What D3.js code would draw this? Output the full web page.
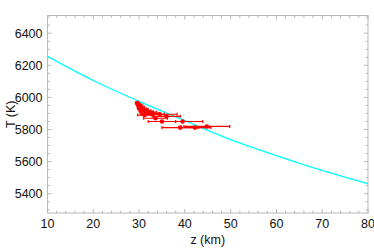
<!DOCTYPE html>
<html>
<head>
<meta charset="utf-8">
<script src="https://cdn.jsdelivr.net/npm/d3@7"></script>
<style>
  body { margin: 0; background: #fff; }
  text { font-family: "Liberation Sans", Arial, sans-serif; }
</style>
</head>
<body>
<div id="viz"></div>
<script>
var width = 374;
var height = 248;

// model curve
var curveZ = [10, 20, 30, 40, 50, 60, 70, 80];
var curveT = [6255, 6105, 5975, 5855, 5737, 5638, 5545, 5462];

// measurements with z error
var ptZ = [29.6, 29.9, 30.2, 30.4, 30.7, 31.0, 31.3, 31.6, 32.0, 32.4, 31.2, 33.0, 34.5, 33.6, 36.0, 35.0, 39.5, 39.0, 42.2, 44.8];
var ptT = [5965, 5955, 5948, 5938, 5930, 5925, 5918, 5912, 5908, 5900, 5890, 5895, 5895, 5870, 5882, 5850, 5850, 5812, 5812, 5819];
var ptErr = [0.4, 0.5, 0.6, 0.8, 1.0, 1.0, 1.3, 1.5, 1.8, 2.0, 1.5, 2.5, 3.8, 2.6, 3.0, 3.0, 4.4, 4.0, 3.5, 5.0];

var xTicks = [10, 20, 30, 40, 50, 60, 70, 80];
var yTicks = [5400, 5600, 5800, 6000, 6200, 6400];

var margin = {left: 47.5, right: 6, top: 15.5, bottom: 35};

var svg = d3.select("#viz")
    .append("svg")
    .attr("width", width)
    .attr("height", height);

var x = d3.scaleLinear()
    .domain([10, 80])
    .range([margin.left, width - margin.right]);

var y = d3.scaleLinear()
    .domain([5280, 6510])
    .range([height - margin.bottom, margin.top]);

var frameColor = "#b8b8b8";

// ticks, all pointing inward
var xMinor = d3.range(10, 80.001, 2);
var yMinor = d3.range(5300, 6500.001, 50);

var g = svg.append("g").attr("stroke", frameColor).attr("stroke-width", 1);

xMinor.forEach(function(v) {
  var len = (v % 10 === 0) ? 4 : 2.5;
  g.append("line").attr("x1", x(v)).attr("x2", x(v))
    .attr("y1", y.range()[0]).attr("y2", y.range()[0] - len);
  g.append("line").attr("x1", x(v)).attr("x2", x(v))
    .attr("y1", y.range()[1]).attr("y2", y.range()[1] + len);
});
yMinor.forEach(function(v) {
  var len = (v % 200 === 0) ? 4 : 2.5;
  g.append("line").attr("y1", y(v)).attr("y2", y(v))
    .attr("x1", x.range()[0]).attr("x2", x.range()[0] + len);
  g.append("line").attr("y1", y(v)).attr("y2", y(v))
    .attr("x1", x.range()[1]).attr("x2", x.range()[1] - len);
});

svg.append("rect")
    .attr("x", x.range()[0])
    .attr("y", y.range()[1])
    .attr("width", x.range()[1] - x.range()[0])
    .attr("height", y.range()[0] - y.range()[1])
    .attr("fill", "none")
    .attr("stroke", frameColor);

// tick labels
svg.selectAll("text.xt")
    .data(xTicks)
    .enter()
    .append("text")
    .attr("x", d => x(d))
    .attr("y", y.range()[0] + 14.5)
    .attr("text-anchor", "middle")
    .attr("font-size", 12.5)
    .attr("fill", "#111")
    .text(d => d);

svg.selectAll("text.yt")
    .data(yTicks)
    .enter()
    .append("text")
    .attr("x", x.range()[0] - 5)
    .attr("y", d => y(d) + 4.5)
    .attr("text-anchor", "end")
    .attr("font-size", 12.5)
    .attr("fill", "#111")
    .text(d => d);

svg.append("text")
    .attr("x", (x.range()[0] + x.range()[1]) / 2)
    .attr("y", 243.5)
    .attr("text-anchor", "middle")
    .attr("font-size", 12.5)
    .attr("fill", "#111")
    .text("z (km)");

svg.append("text")
    .attr("transform", "translate(14.5," + ((y.range()[0] + y.range()[1]) / 2) + ") rotate(-90)")
    .attr("text-anchor", "middle")
    .attr("font-size", 12.5)
    .attr("fill", "#111")
    .text("T (K)");

// clip
svg.append("clipPath").attr("id", "clip")
  .append("rect")
    .attr("x", x.range()[0])
    .attr("y", y.range()[1])
    .attr("width", x.range()[1] - x.range()[0])
    .attr("height", y.range()[0] - y.range()[1]);

var plot = svg.append("g").attr("clip-path", "url(#clip)");

var line = d3.line()
    .x((d, i) => x(curveZ[i]))
    .y(d => y(d))
    .curve(d3.curveMonotoneX);

plot.append("path")
    .attr("d", line(curveT))
    .attr("fill", "none")
    .attr("stroke", "#00ffff")
    .attr("stroke-width", 1.3);

var pts = ptZ.map((z, i) => ({z: z, t: ptT[i], e: ptErr[i]}));

var eb = plot.selectAll("g.eb")
    .data(pts)
    .enter()
    .append("g")
    .attr("stroke", "#ff0000")
    .attr("stroke-width", 1.2);

eb.append("line")
    .attr("x1", d => x(d.z - d.e))
    .attr("x2", d => x(d.z + d.e))
    .attr("y1", d => y(d.t))
    .attr("y2", d => y(d.t));

eb.append("line")
    .attr("x1", d => x(d.z - d.e)).attr("x2", d => x(d.z - d.e))
    .attr("y1", d => y(d.t) - 1.5).attr("y2", d => y(d.t) + 1.5);
eb.append("line")
    .attr("x1", d => x(d.z + d.e)).attr("x2", d => x(d.z + d.e))
    .attr("y1", d => y(d.t) - 1.5).attr("y2", d => y(d.t) + 1.5);

plot.selectAll("circle")
    .data(pts)
    .enter()
    .append("circle")
    .attr("cx", d => x(d.z))
    .attr("cy", d => y(d.t))
    .attr("r", 2.3)
    .attr("fill", "#ff0000");
</script>
</body>
</html>
